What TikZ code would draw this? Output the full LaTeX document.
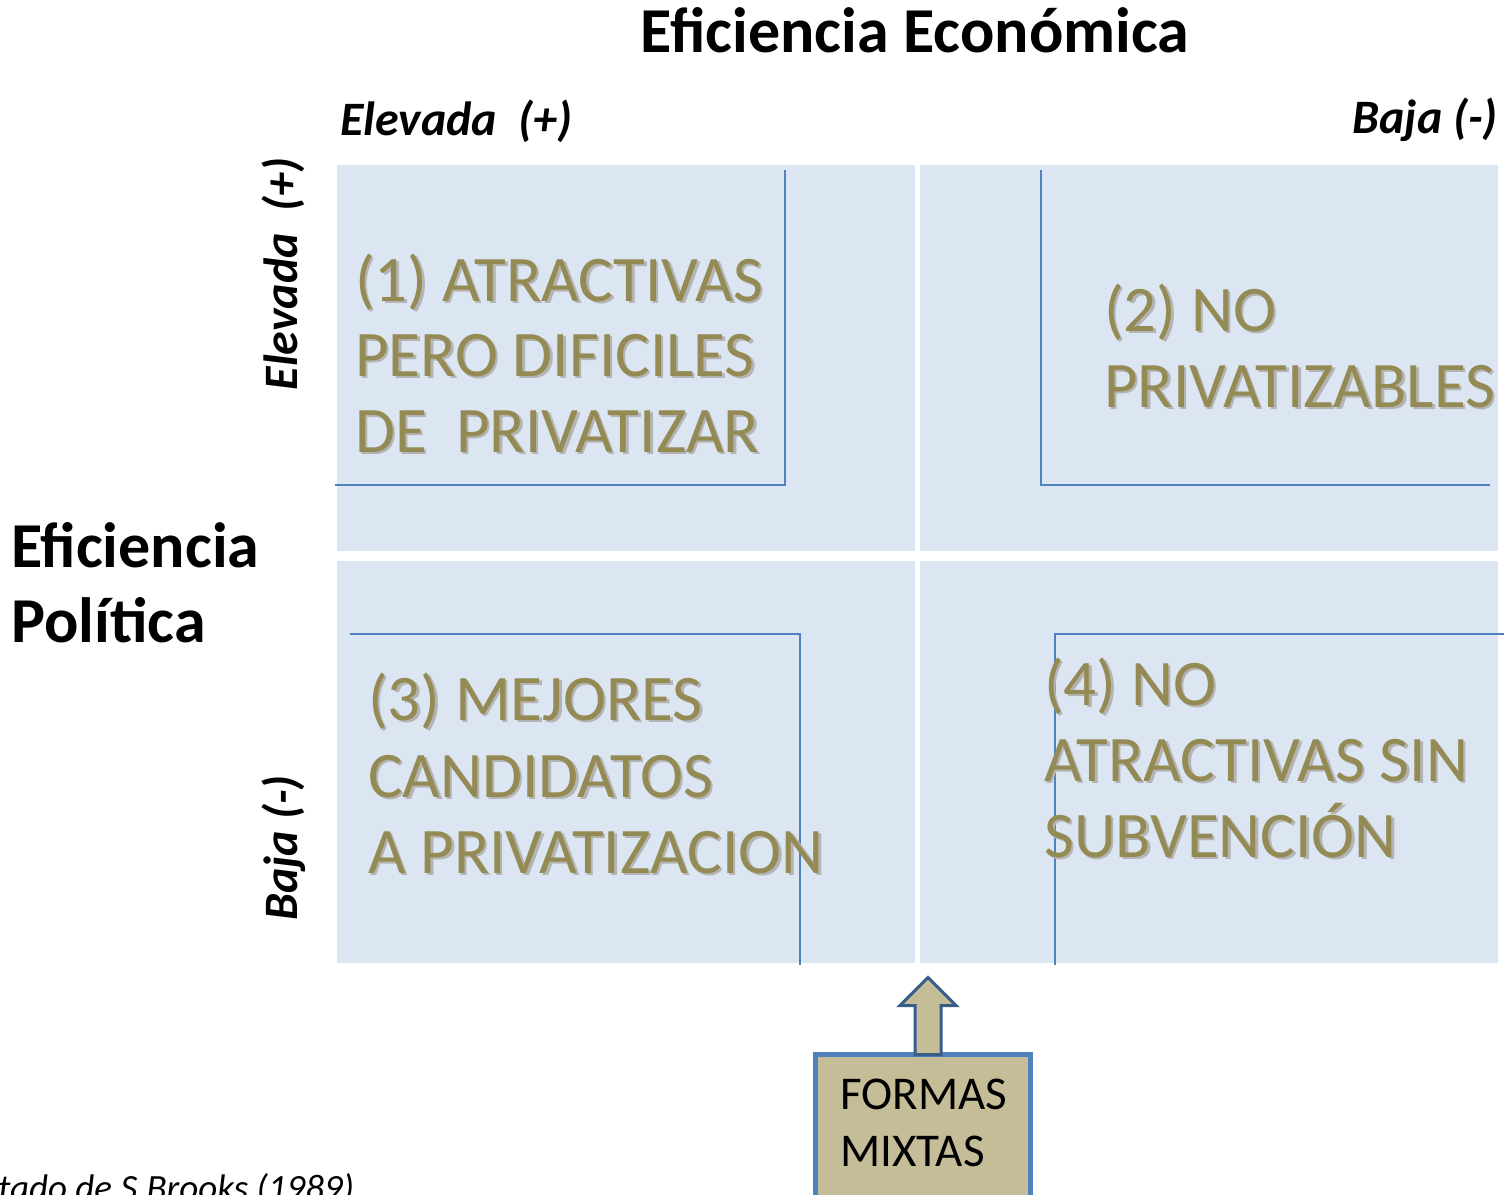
\documentclass[tikz,border=0pt]{standalone}
\usepackage{fontspec}
\usetikzlibrary{calc}
\setmainfont{Carlito}
\definecolor{qfill}{HTML}{DCE6F2}
\definecolor{qline}{HTML}{4F81BD}
\definecolor{qtext}{HTML}{948A54}
\definecolor{qshad}{HTML}{B4B4B4}
\definecolor{boxfill}{HTML}{C4BD97}
\definecolor{arrline}{HTML}{385D8A}
\newcommand\qtxt[4]{%
  \node[qshadow] (#1s) at (#2+2.5,#3+2.5) {#4};
  \node[qmain] (#1) at (#2,#3) {#4};}
\begin{document}
\begin{tikzpicture}[x=1pt,y=-1pt,
  quad/.style={fill=qfill,draw=none},
  qrule/.style={draw=qline,line width=1.3pt},
  qmain/.style={anchor=base west,inner sep=0pt,text=qtext,font=\fontsize{65}{78}\selectfont},
  qshadow/.style={anchor=base west,inner sep=0pt,text=qshad,font=\fontsize{65}{78}\selectfont},
  axis/.style={inner sep=0pt,font=\bfseries\itshape\fontsize{48}{58}\selectfont},
  bigtitle/.style={inner sep=0pt,font=\bfseries\fontsize{64}{77}\selectfont},
  fmtext/.style={anchor=base west,inner sep=0pt,font=\fontsize{47}{56}\selectfont}]
\useasboundingbox (0,0) rectangle (1504,1194);
% quadrants
\fill[quad] (337,165) rectangle (915,551);
\fill[quad] (920,165) rectangle (1498,551);
\fill[quad] (337,561) rectangle (915,963);
\fill[quad] (920,561) rectangle (1498,963);
% rules
\draw[qrule] (785,170) -- (785,485) -- (335,485);
\draw[qrule] (1041,170) -- (1041,485) -- (1490,485);
\draw[qrule] (350,634) -- (800,634) -- (800,965);
\draw[qrule] (1504,634) -- (1055,634) -- (1055,965);
% quadrant texts
\qtxt{qa1}{355}{301}{(1) ATRACTIVAS}
\qtxt{qa2}{355}{376}{PERO DIFICILES}
\qtxt{qa3}{355}{452}{DE\ \ PRIVATIZAR}
\qtxt{qb1}{1104}{331}{(2) NO}
\qtxt{qb2}{1104}{407}{PRIVATIZABLES}
\qtxt{qc1}{368}{720}{(3) MEJORES}
\qtxt{qc2}{368}{797}{CANDIDATOS}
\qtxt{qc3}{368}{873}{A PRIVATIZACION}
\qtxt{qd1}{1044}{705}{(4) NO}
\qtxt{qd2}{1044}{781}{ATRACTIVAS SIN}
\qtxt{qd3}{1044}{857}{SUBVENCIÓN}
% titles
\node[bigtitle,anchor=base] (title) at (915,52) {Eficiencia Económica};
\node[axis,anchor=base west] (elev) at (340,135) {Elevada\ \ (+)};
\node[axis,anchor=base east] (baja) at (1498,133) {Baja (-)};
\node[bigtitle,anchor=base west] (ef1) at (11,567) {Eficiencia};
\node[bigtitle,anchor=base west] (ef2) at (11,642) {Política};
\node[axis,anchor=base,rotate=90] (elevv) at (297,274) {Elevada\ \ (+)};
\node[axis,anchor=base,rotate=90] (bajav) at (297,848) {Baja (-)};
% source
\node[anchor=base west,inner sep=0pt,font=\itshape\fontsize{37}{44}\selectfont] (src) at (-2,1200) {tado de S.Brooks (1989)};
% formas mixtas
\node[draw=qline,fill=boxfill,line width=5pt,anchor=north west,minimum width=215pt,minimum height=170pt,inner sep=0pt,outer sep=0pt] (fm) at (815.5,1054.5) {};
\node[fmtext] (fm1) at (840,1109) {FORMAS};
\node[fmtext] (fm2) at (840,1166) {MIXTAS};
\draw[draw=arrline,fill=boxfill,line width=3pt,line join=miter]
  ($(fm.north)+(-8,0)$) -- ++(0,-49) -- ++(-15,0) -- ++(28,-28) -- ++(28,28) -- ++(-15,0) -- ++(0,49) -- cycle;
\end{tikzpicture}
\end{document}
